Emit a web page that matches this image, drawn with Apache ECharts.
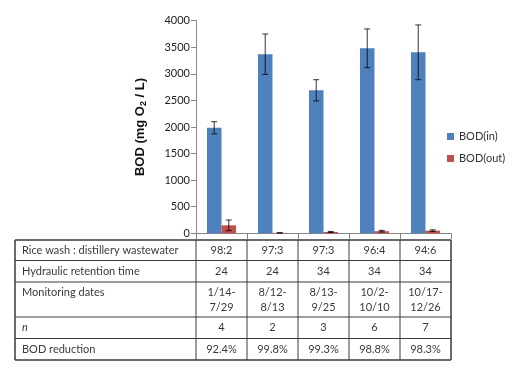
<!DOCTYPE html>
<html><head><meta charset="utf-8">
<script src="https://cdn.jsdelivr.net/npm/echarts@6/dist/echarts.min.js"></script>
<style>html,body{margin:0;padding:0;background:#fff}#c{width:516px;height:368px}</style>
</head><body><div id="c"></div>
<script>
const categories = ['98:2', '97:3', '97:3', '96:4', '94:6'];
const bodIn = [1985, 3370, 2690, 3480, 3405];
const bodInErr = [115, 380, 200, 365, 515];
const bodOut = [150, 8, 25, 40, 50];
const bodOutErr = [100, 4, 10, 15, 15];
const yTicks = [0, 500, 1000, 1500, 2000, 2500, 3000, 3500, 4000];
const rowLabels = ['Rice wash : distillery wastewater', 'Hydraulic retention time', 'Monitoring dates', 'n', 'BOD reduction'];
const rowRatio = ['98:2', '97:3', '97:3', '96:4', '94:6'];
const rowHRT = ['24', '24', '34', '34', '34'];
const rowDates = ['1/14-\n7/29', '8/12-\n8/13', '8/13-\n9/25', '10/2-\n10/10', '10/17-\n12/26'];
const rowN = ['4', '2', '3', '6', '7'];
const rowReduction = ['92.4%', '99.8%', '99.3%', '98.8%', '98.3%'];

const chart = echarts.init(document.getElementById('c'));
const BAR_FRAC = 0.285;
function errSeries(vals, errs, side) {
  return {
    type: 'custom', silent: true, z: 5,
    data: vals.map((v, i) => [i, v, errs[i]]),
    renderItem: function (params, api) {
      const i = api.value(0), v = api.value(1), e = api.value(2);
      const band = api.size([1, 0])[0];
      const off = side * band * BAR_FRAC / 2;
      const c = api.coord([i, v]);
      const x = c[0] + off;
      const yt = api.coord([i, v + e])[1];
      const yb = api.coord([i, Math.max(0, v - e)])[1];
      const cap = 3;
      const st = { stroke: '#000', lineWidth: 0.8 };
      return { type: 'group', children: [
        { type: 'line', shape: { x1: x, y1: yt, x2: x, y2: yb }, style: st },
        { type: 'line', shape: { x1: x - cap, y1: yt, x2: x + cap, y2: yt }, style: st },
        { type: 'line', shape: { x1: x - cap, y1: yb, x2: x + cap, y2: yb }, style: st }
      ]};
    }
  };
}
const option = {
  animation: false,
  textStyle: { fontFamily: 'Lato' },
  grid: { left: 196, right: 65, top: 20.7, bottom: 134.7 },
  legend: {
    orient: 'vertical', left: 442, top: 126, itemWidth: 7, itemHeight: 7, itemGap: 11,
    icon: 'rect', textStyle: { fontSize: 11, color: '#333', fontFamily: 'Lato' },
    data: ['BOD(in)', 'BOD(out)']
  },
  xAxis: {
    type: 'category', data: categories,
    axisLine: { lineStyle: { color: '#868686' } },
    axisTick: { show: true, length: 6, lineStyle: { color: '#868686' } },
    axisLabel: { show: false }
  },
  yAxis: {
    type: 'value', min: 0, max: 4000, interval: 500,
    name: '{b|BOD (mg O}{s|2}{b| / L)}', nameLocation: 'middle', nameRotate: 90, nameGap: 48,
    nameTextStyle: { rich: {
      b: { fontSize: 13, fontWeight: 'bold', color: '#111', fontFamily: 'Liberation Sans' },
      s: { fontSize: 9, fontWeight: 'bold', color: '#111', fontFamily: 'Liberation Sans', verticalAlign: 'bottom', padding: [6, 0, 0, 0] }
    } },
    axisLine: { show: true, lineStyle: { color: '#868686' } },
    axisTick: { show: true, length: 5, lineStyle: { color: '#868686' } },
    axisLabel: { fontSize: 11, color: '#222', margin: 6, fontFamily: 'Lato',
      formatter: v => yTicks.includes(v) ? String(v) : '' },
    splitLine: { show: false }
  },
  series: [
    { name: 'BOD(in)', type: 'bar', data: bodIn, barWidth: (BAR_FRAC * 100) + '%', barGap: '0%', itemStyle: { color: '#4F81BD' } },
    { name: 'BOD(out)', type: 'bar', data: bodOut, barWidth: (BAR_FRAC * 100) + '%', barGap: '0%', itemStyle: { color: '#C0504D' } },
    errSeries(bodIn, bodInErr, -1),
    errSeries(bodOut, bodOutErr, 1)
  ]
};
chart.setOption(option);

// Table aligned to the category bands
const x0 = chart.convertToPixel({ xAxisIndex: 0 }, 0);
const x1 = chart.convertToPixel({ xAxisIndex: 0 }, 1);
const band = x1 - x0;
const colEdges = [15];
for (let i = 0; i <= categories.length; i++) colEdges.push(x0 - band / 2 + i * band);
const rowEdges = [240, 260.5, 282, 317, 338.5, 360];
const rows = [rowRatio, rowHRT, rowDates, rowN, rowReduction];
const g = [];
rowEdges.forEach((y, k) => {
  g.push({ type: 'line', shape: { x1: colEdges[0], y1: y, x2: colEdges[colEdges.length - 1], y2: y },
    style: { stroke: '#3a3a3a', lineWidth: (k === 0 || k === rowEdges.length - 1) ? 1.5 : 1 }, silent: true });
});
colEdges.forEach((x, k) => {
  g.push({ type: 'line', shape: { x1: x, y1: rowEdges[0], x2: x, y2: rowEdges[rowEdges.length - 1] },
    style: { stroke: '#3a3a3a', lineWidth: (k === 0 || k === colEdges.length - 1) ? 1.5 : 1 }, silent: true });
});
const txt = { fontSize: 11, fill: '#3a3a3a', fontFamily: 'Lato' };
rows.forEach((vals, r) => {
  const top = rowEdges[r], h = rowEdges[r + 1] - top;
  const multi = r === 2;
  g.push({ type: 'text', silent: true,
    style: Object.assign({}, txt, { text: rowLabels[r], x: 22, y: multi ? top + 10 : top + h / 2,
      align: 'left', verticalAlign: 'middle', fontStyle: r === 3 ? 'italic' : 'normal' }) });
  vals.forEach((v, c) => {
    g.push({ type: 'text', silent: true,
      style: Object.assign({}, txt, { text: v, x: (colEdges[c + 1] + colEdges[c + 2]) / 2, y: top + h / 2 + (multi ? 0.5 : 0),
        align: 'center', verticalAlign: 'middle', lineHeight: 15 }) });
  });
});
chart.setOption({ graphic: g });
</script></body></html>
